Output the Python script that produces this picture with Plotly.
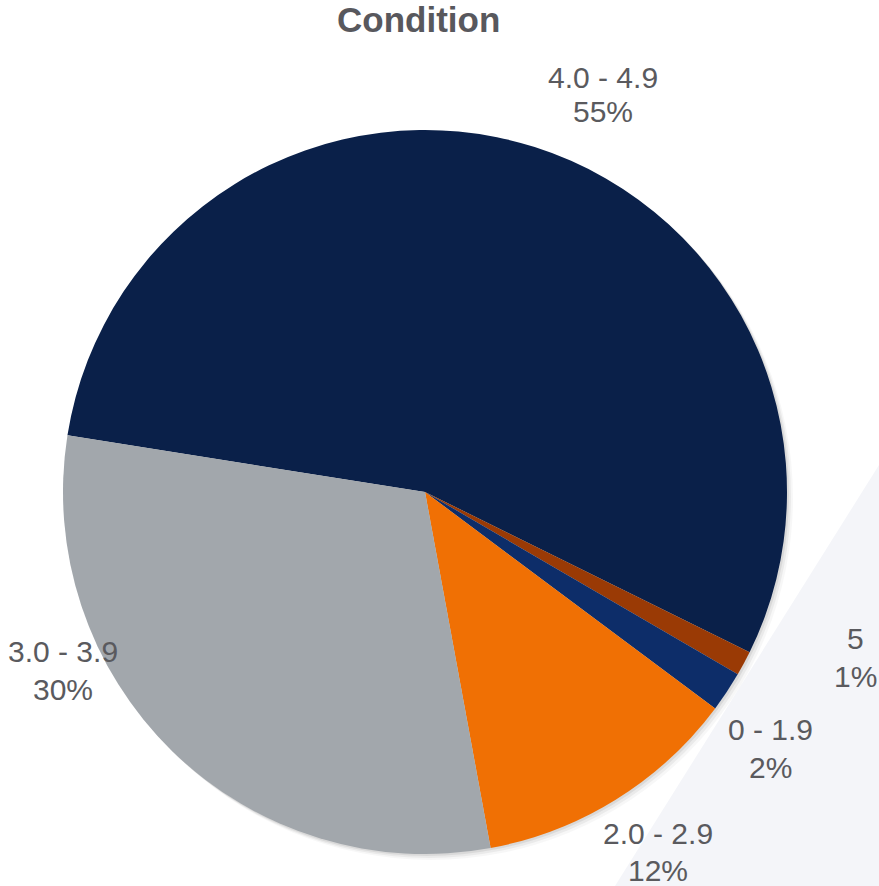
import plotly.graph_objects as go

# Condition ratings share (percent of assets)
categories = ["4.0 - 4.9", "5", "0 - 1.9", "2.0 - 2.9", "3.0 - 3.9"]
shares = [54.8, 1.1, 1.8, 11.9, 30.4]
slice_colors = ["#0a2049", "#9a3a05", "#0d2d69", "#f07004", "#a2a7ac"]

# label anchor points in pixels (centre x, first-line y, second-line y)
label_pos = [(603, 77, 111), (855, 638, 676), (770, 729, 767), (658, 833, 870), (63, 651, 689)]

W, H = 879, 886
cx, cy, r = 425, 492, 362

fig = go.Figure()
fig.add_trace(go.Pie(
    labels=categories,
    values=shares,
    sort=False,
    direction="clockwise",
    rotation=279,
    marker=dict(colors=slice_colors, line=dict(width=0)),
    textinfo="none",
    hoverinfo="label+percent",
    showlegend=False,
    domain=dict(x=[(cx - r) / W, (cx + r) / W], y=[1 - (cy + r) / H, 1 - (cy - r) / H]),
))

shapes = [
    # light decorative corner panel
    dict(type="path", xref="paper", yref="paper", layer="below",
         path=f"M 1 {1 - 465 / H} L 1 0 L {615 / W} 0 Z",
         fillcolor="#f4f5f9", line=dict(width=0)),
]
# soft shadow under the pie
for k, a in [(6, 0.03), (4, 0.05), (2, 0.07)]:
    shapes.append(dict(type="circle", xref="paper", yref="paper", layer="below",
                       x0=(cx - r + k) / W, x1=(cx + r + k) / W,
                       y0=1 - (cy + r + k) / H, y1=1 - (cy - r + k) / H,
                       fillcolor=f"rgba(0,0,0,{a})", line=dict(width=0)))

txt_font = dict(family="Liberation Sans, Arial, sans-serif", size=30, color="#5a5a5e")
total = sum(shares)
annotations = []
for name, v, (x, y1, y2) in zip(categories, shares, label_pos):
    annotations.append(dict(x=x / W, y=1 - y1 / H, xref="paper", yref="paper",
                            text=name, showarrow=False, font=txt_font,
                            xanchor="center", yanchor="middle"))
    annotations.append(dict(x=x / W, y=1 - y2 / H, xref="paper", yref="paper",
                            text=f"{round(100 * v / total)}%", showarrow=False, font=txt_font,
                            xanchor="center", yanchor="middle"))

annotations.append(dict(x=418 / W, y=1 - 20 / H, xref="paper", yref="paper",
                        text="<b>Condition</b>", showarrow=False,
                        font=dict(family="Liberation Sans, Arial, sans-serif", size=35, color="#58585d"),
                        xanchor="center", yanchor="middle"))

fig.update_layout(
    width=W, height=H,
    margin=dict(l=0, r=0, t=0, b=0),
    paper_bgcolor="white",
    plot_bgcolor="white",
    shapes=shapes,
    annotations=annotations,
)

fig.write_html("out.html")
